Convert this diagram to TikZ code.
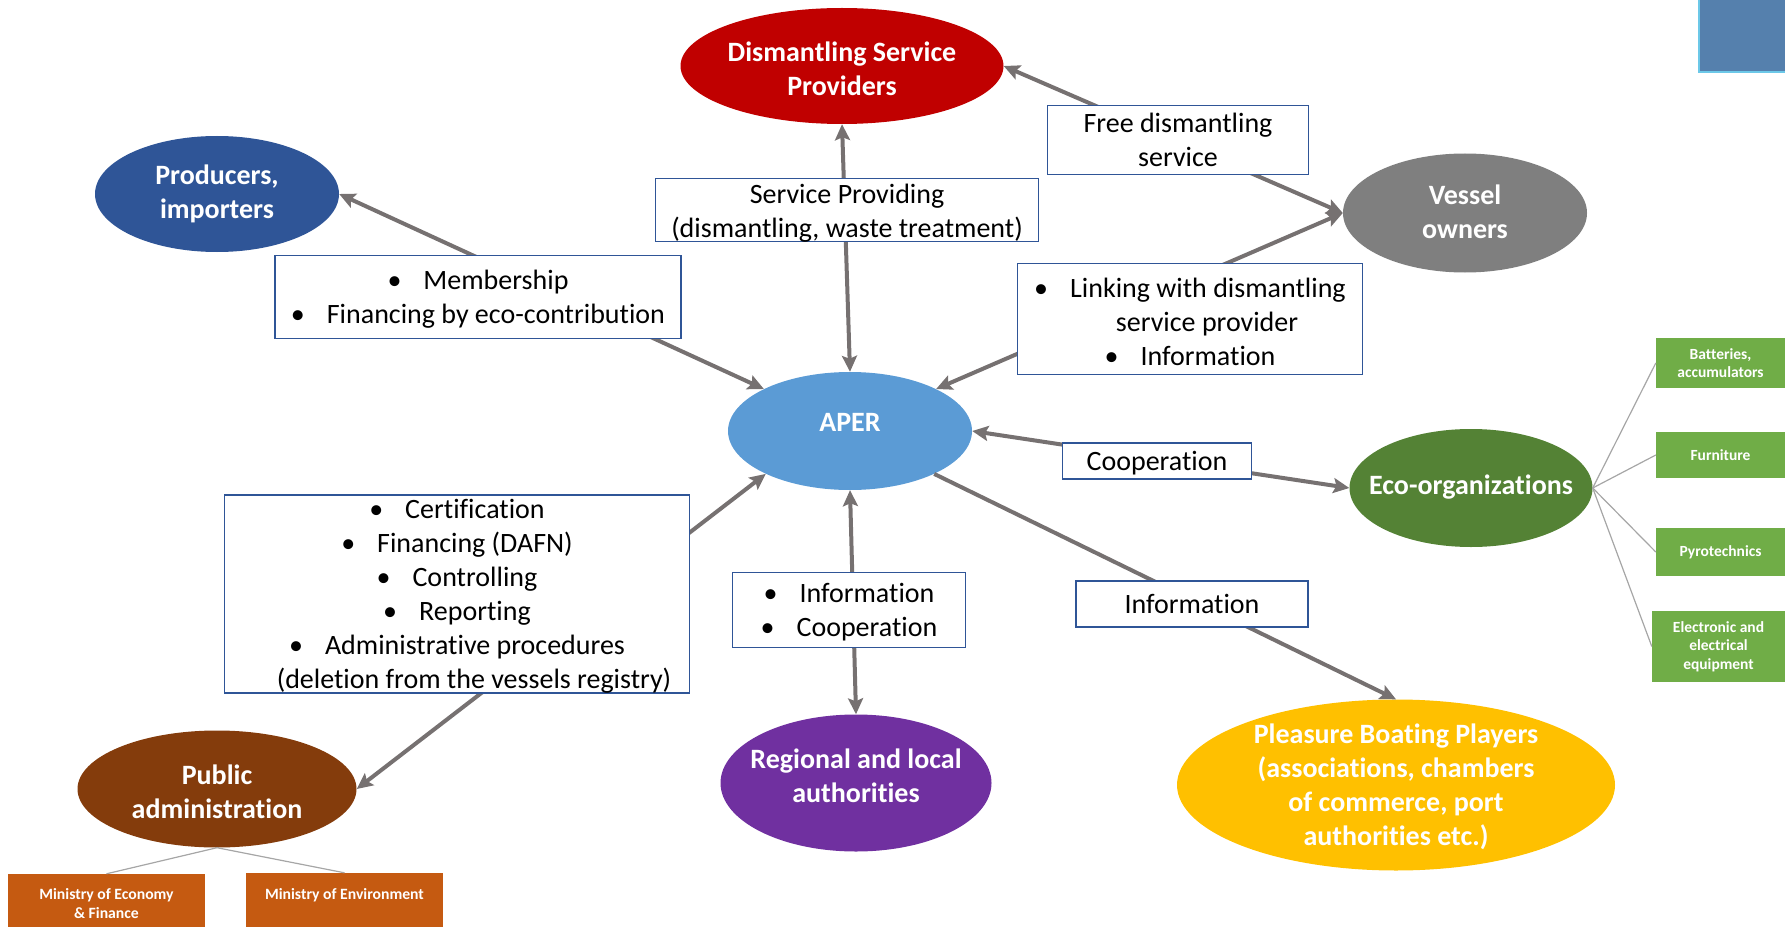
\documentclass[tikz,border=0pt]{standalone}
\usepackage{fontspec}
\setmainfont{Carlito}[Ligatures=NoCommon]
\usetikzlibrary{shapes.geometric,arrows.meta}
\definecolor{dspred}{HTML}{C00000}
\definecolor{prodblue}{HTML}{2F5597}
\definecolor{vesgray}{HTML}{7F7F7F}
\definecolor{aperblue}{HTML}{5B9BD5}
\definecolor{ecogreen}{HTML}{548235}
\definecolor{pubbrown}{HTML}{843C0C}
\definecolor{regpurple}{HTML}{7030A0}
\definecolor{pleasgold}{HTML}{FFC000}
\definecolor{leafgreen}{HTML}{70AD47}
\definecolor{leaforange}{HTML}{C55A11}
\definecolor{arrgray}{HTML}{767171}
\definecolor{boxblue}{HTML}{2F5597}
\definecolor{thingray}{HTML}{A6A6A6}
\definecolor{cornerblue}{RGB}{85,128,173}
\definecolor{cornercyan}{RGB}{108,200,232}
\newcommand\bul{\textbullet\hspace{22pt}}
\tikzset{
  ell/.style={ellipse, inner sep=0pt},
  elltext/.style={inner sep=0pt, text=white, align=center,
    font=\fontsize{28}{34}\selectfont\bfseries},
  lbl/.style={draw=boxblue, line width=1.5pt, fill=white, inner sep=0pt},
  lbltext/.style={inner sep=0pt, align=center, font=\fontsize{28}{34}\selectfont},
  leaf/.style={inner sep=0pt, text=white, align=center,
    font=\fontsize{15.5}{18.3}\selectfont\bfseries},
  leaftext/.style={inner sep=0pt, text=white, align=center,
    font=\fontsize{15.7}{18.3}\selectfont\bfseries},
  conn/.style={draw=arrgray, line width=4pt, {Stealth[length=16pt,width=15pt,inset=3pt]}-{Stealth[length=16pt,width=15pt,inset=3pt]}},
  oneway/.style={draw=arrgray, line width=4pt, -{Stealth[length=16pt,width=15pt,inset=3pt]}},
  thin/.style={draw=thingray, line width=1.2pt}
}
\begin{document}
\begin{tikzpicture}[x=1pt,y=-1pt]
\useasboundingbox (0,0) rectangle (1785,928);
% corner decoration
\node[fill=cornerblue, draw=cornercyan, line width=2pt, minimum width=87pt, minimum height=74pt, inner sep=0pt] (corner) at (1742.5,35) {};
% ellipses
\node[ell, fill=dspred, minimum width=323pt, minimum height=116pt] (dsp) at (842,66) {};
\node[ell, fill=prodblue, minimum width=244pt, minimum height=116pt] (prod) at (217,194) {};
\node[ell, fill=vesgray, minimum width=244pt, minimum height=119pt] (ves) at (1465,213) {};
\node[ell, fill=aperblue, minimum width=244pt, minimum height=118pt] (aper) at (850,431) {};
\node[ell, fill=ecogreen, minimum width=243pt, minimum height=118pt] (eco) at (1471,488) {};
\node[ell, fill=pubbrown, minimum width=279pt, minimum height=117pt] (pub) at (217,789) {};
\node[ell, fill=regpurple, minimum width=271pt, minimum height=137pt] (reg) at (856,783) {};
\node[ell, fill=pleasgold, minimum width=438pt, minimum height=171pt] (pleas) at (1396,785) {};
\node[elltext] (dsp-t) at ([yshift=-3pt]dsp.center) {Dismantling Service\\Providers};
\node[elltext] (prod-t) at (prod.center) {Producers,\\importers};
\node[elltext] (ves-t) at ([yshift=1pt]ves.center) {Vessel\\owners};
\node[elltext] (aper-t) at ([yshift=9pt]aper.center) {APER};
\node[elltext] (eco-t) at ([yshift=1pt]eco.center) {Eco-organizations};
\node[elltext] (pub-t) at ([yshift=-3pt]pub.center) {Public\\administration};
\node[elltext] (reg-t) at ([yshift=7pt]reg.center) {Regional and local\\authorities};
\node[elltext] (pleas-t) at ([yshift=-2pt]pleas.center) {Pleasure Boating Players\\(associations, chambers\\of commerce, port\\authorities etc.)};
% leaves of eco-organizations
\node[leaf, fill=leafgreen, minimum width=129pt, minimum height=50pt] (bat) at (1720.5,363) {Batteries,\\accumulators};
\node[leaf, fill=leafgreen, minimum width=129pt, minimum height=46pt] (furn) at (1720.5,455) {Furniture};
\node[leaf, fill=leafgreen, minimum width=129pt, minimum height=48pt] (pyro) at (1720.5,552) {Pyrotechnics};
\node[leaf, fill=leafgreen, minimum width=133pt, minimum height=71pt] (elec) at (1718.5,646.5) {Electronic and\\electrical\\equipment};
\draw[thin] (eco.east) -- (bat.west);
\draw[thin] (eco.east) -- (furn.west);
\draw[thin] (eco.east) -- (pyro.west);
\draw[thin] (eco.east) -- (elec.west);
% leaves of public administration
\node[fill=leaforange, inner sep=0pt, minimum width=197pt, minimum height=53pt] (econ) at (106.5,900.5) {};
\node[fill=leaforange, inner sep=0pt, minimum width=197pt, minimum height=54pt] (env) at (344.5,900) {};
\node[leaftext] (econ-t) at ([yshift=-3pt]econ.center) {Ministry of Economy\\\& Finance};
\node[leaftext] (env-t) at ([yshift=-3pt]env.center) {Ministry of Environment\\\mbox{}};
\draw[thin] (pub.south) -- (econ.north);
\draw[thin] (pub.south) -- (env.north);
% connectors
\draw[conn] (dsp.south) -- (aper.north);
\draw[conn] (prod.east) -- (aper.154);
\draw[conn] (dsp.east) -- (ves.west);
\draw[conn] (ves.west) -- (aper.26);
\draw[conn] (aper.east) -- (eco.west);
\draw[conn] (aper.207) -- (pub.east);
\draw[conn] (aper.south) -- (reg.north);
\draw[oneway] (aper.333.4) -- (pleas.north);
% label boxes
\node[lbl, minimum width=383pt, minimum height=63pt] (sp) at (847,210) {};
\node[lbl, minimum width=261pt, minimum height=69pt] (free) at (1178,140) {};
\node[lbl, minimum width=406pt, minimum height=83pt] (memb) at (478,297) {};
\node[lbl, minimum width=345pt, minimum height=111pt] (link) at (1190,319) {};
\node[lbl, minimum width=189pt, minimum height=36pt] (coop) at (1157,461) {};
\node[lbl, minimum width=465pt, minimum height=198pt] (cert) at (457,594) {};
\node[lbl, minimum width=233pt, minimum height=75pt] (ic) at (849,610) {};
\node[lbl, minimum width=232pt, minimum height=46pt] (info) at (1192,604) {};
\node[lbltext] (sp-t) at ([yshift=-3pt]sp.center) {Service Providing\\(dismantling, waste treatment)};
\node[lbltext] (free-t) at (free.center) {Free dismantling\\service};
\node[lbltext] (memb-t) at ([yshift=-2.5pt]memb.center) {\bul Membership\\\bul Financing by eco-contribution};
\node[lbltext] (link-t) at ([yshift=-2.5pt]link.center) {\bul Linking with dismantling\\\hspace*{34pt}service provider\\\bul Information};
\node[lbltext] (coop-t) at ([yshift=-2pt]coop.center) {Cooperation};
\node[lbltext] (cert-t) at ([yshift=-2.5pt]cert.center) {\bul Certification\\\bul Financing (DAFN)\\\bul Controlling\\\bul Reporting\\\bul Administrative procedures\\\hspace*{34pt}(deletion from the vessels registry)};
\node[lbltext] (ic-t) at ([yshift=-2.5pt]ic.center) {\bul Information\\\bul Cooperation};
\node[lbltext] (info-t) at (info.center) {Information};
\end{tikzpicture}
\end{document}
